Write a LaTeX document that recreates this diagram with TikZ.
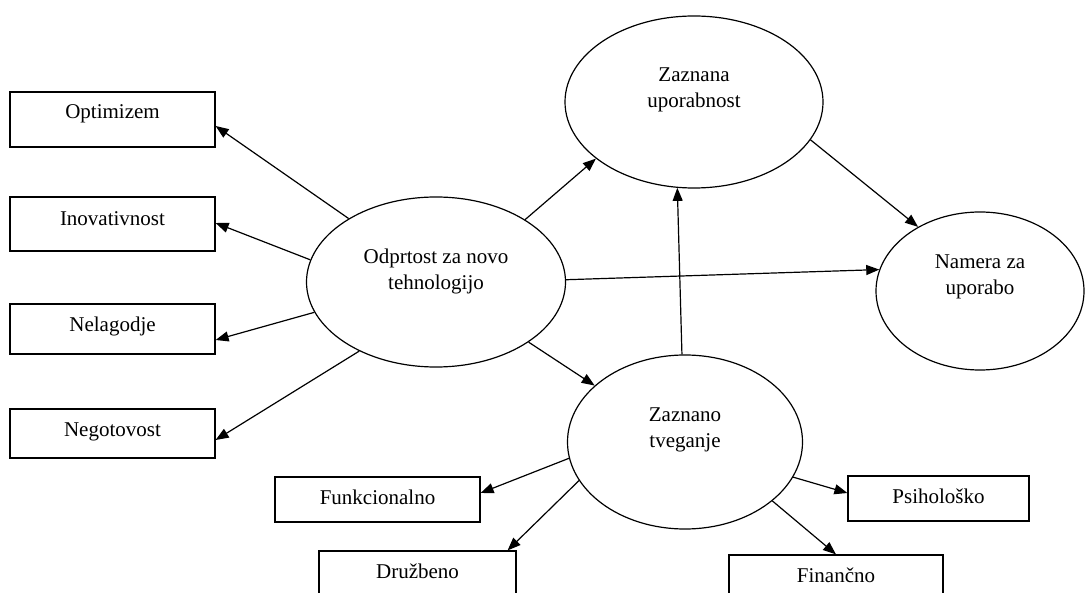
\documentclass[tikz,border=0pt]{standalone}
\usepackage{fontspec}
\setmainfont{Liberation Serif}
\usetikzlibrary{shapes.geometric,arrows.meta,calc}
\begin{document}
\begin{tikzpicture}[x=0.5pt,y=-0.5pt,
  every node/.style={font=\fontsize{10.5}{13}\selectfont},
  ell/.style={draw,ellipse,line width=0.6pt,inner sep=0pt},
  lbl/.style={align=center,inner sep=0pt},
  box/.style={draw,rectangle,line width=0.6pt,inner sep=0pt},
  arr/.style={line width=0.6pt,-{Triangle[length=6.5pt,width=5pt]}}]
\useasboundingbox (0,0) rectangle (1087,593);
% ellipses
\node[ell,minimum width=129.5pt,minimum height=85pt] (odp) at (436,282) {};
\node[lbl] (odpT) at (436,271) {Odprtost za novo\\tehnologijo};
\node[ell,minimum width=129pt,minimum height=86pt] (zu) at (694,102) {};
\node[lbl] (zuT) at (694,90) {Zaznana\\uporabnost};
\node[ell,minimum width=104pt,minimum height=79pt] (nam) at (980,291) {};
\node[lbl] (namT) at (980,277) {Namera za\\uporabo};
\node[ell,minimum width=117.5pt,minimum height=87pt] (zt) at (685,442) {};
\node[lbl] (ztT) at (685,430) {Zaznano\\tveganje};
% boxes
\node[box,minimum width=102.5pt,minimum height=27.5pt] (opt) at (112.5,119.5) {};
\node[lbl] (optT) at (112.5,114) {Optimizem};
\node[box,minimum width=102.5pt,minimum height=27pt] (ino) at (112.5,224) {};
\node[lbl] (inoT) at (112.5,219) {Inovativnost};
\node[box,minimum width=102.5pt,minimum height=25pt] (nel) at (112.5,329) {};
\node[lbl] (nelT) at (112.5,326) {Nelagodje};
\node[box,minimum width=102.5pt,minimum height=24.5pt] (neg) at (112.5,433.5) {};
\node[lbl] (negT) at (112.5,432) {Negotovost};
\node[box,minimum width=102.5pt,minimum height=22.5pt] (fun) at (377.5,499.5) {};
\node[lbl] (funT) at (377.5,497) {Funkcionalno};
\node[box,minimum width=98.5pt,minimum height=22.5pt] (dru) at (417.5,573.5) {};
\node[lbl] (druT) at (417.5,571) {Družbeno};
\node[box,minimum width=90.5pt,minimum height=22.5pt] (psi) at (938.5,498.5) {};
\node[lbl] (psiT) at (938.5,496) {Psihološko};
\node[box,minimum width=107pt,minimum height=22.5pt] (fin) at (836,577.5) {};
\node[lbl] (finT) at (836,575) {Finančno};
% connectors from Odprtost
\draw[arr] (odp.144.8) -- ($(opt.east)+(0,6.5)$);
\draw[arr] (odp.170.4) -- ($(ino.east)+(0,-1)$);
\draw[arr] (odp.194.4) -- ($(nel.east)+(0,11)$);
\draw[arr] (odp.222.7) -- ($(neg.east)+(0,6.5)$);
\draw[arr] (odp.35.6) -- (zu.210.9);
\draw[arr] (odp.1.7) -- (nam.168);
\draw[arr] (odp.-33) -- (zt.148.6);
% others
\draw[arr] (zt.92.6) -- (zu.259.1);
\draw[arr] (zu.-18) -- (nam.134.5);
\draw[arr] (zt.188.7) -- ($(fun.east)+(0,-6.5)$);
\draw[arr] (zt.200.9) -- ($(dru.north east)+(-9,0)$);
\draw[arr] (zt.-18.7) -- ($(psi.west)+(0,-5.5)$);
\draw[arr] (zt.-34.6) -- (fin.north);
\end{tikzpicture}
\end{document}
